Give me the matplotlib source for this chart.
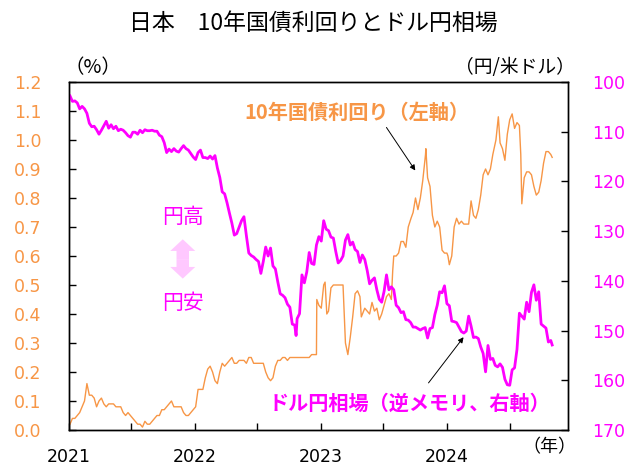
import numpy as np
import pandas as pd
import matplotlib
matplotlib.use("Agg")
import matplotlib.pyplot as plt
from matplotlib.patches import FancyArrowPatch

plt.rcParams['font.family'] = ['Noto Sans CJK JP', 'DejaVu Sans']

ORANGE = '#F79646'
MAGENTA = '#FF00FF'

# --- data ---
jgb_dates = [
    '2021-01-04', '2021-01-11', '2021-01-18', '2021-01-25', '2021-02-01', '2021-02-08', '2021-02-15', '2021-02-22',
    '2021-03-01', '2021-03-08', '2021-03-15', '2021-03-22', '2021-03-29', '2021-04-05', '2021-04-12', '2021-04-19',
    '2021-04-26', '2021-05-03', '2021-05-10', '2021-05-17', '2021-05-24', '2021-05-31', '2021-06-07', '2021-06-14',
    '2021-06-21', '2021-06-28', '2021-07-05', '2021-07-12', '2021-07-19', '2021-07-26', '2021-08-02', '2021-08-09',
    '2021-08-16', '2021-08-23', '2021-08-30', '2021-09-06', '2021-09-13', '2021-09-20', '2021-09-27', '2021-10-04',
    '2021-10-11', '2021-10-18', '2021-10-25', '2021-11-01', '2021-11-08', '2021-11-15', '2021-11-22', '2021-11-29',
    '2021-12-06', '2021-12-13', '2021-12-20', '2021-12-27',
    '2022-01-03', '2022-01-10', '2022-01-17', '2022-01-24', '2022-01-31', '2022-02-07', '2022-02-14', '2022-02-21',
    '2022-02-28', '2022-03-07', '2022-03-14', '2022-03-21', '2022-03-28', '2022-04-04', '2022-04-11', '2022-04-18',
    '2022-04-25', '2022-05-02', '2022-05-09', '2022-05-16', '2022-05-23', '2022-05-30', '2022-06-06', '2022-06-13',
    '2022-06-20', '2022-06-27', '2022-07-04', '2022-07-11', '2022-07-18', '2022-07-25', '2022-08-01', '2022-08-08',
    '2022-08-15', '2022-08-22', '2022-08-29', '2022-09-05', '2022-09-12', '2022-09-19', '2022-09-26', '2022-10-03',
    '2022-10-10', '2022-10-17', '2022-10-24', '2022-10-31', '2022-11-07', '2022-11-14', '2022-11-21', '2022-11-28',
    '2022-12-05', '2022-12-12', '2022-12-19', '2022-12-20', '2022-12-26',
    '2023-01-02', '2023-01-09', '2023-01-13', '2023-01-18', '2023-01-23', '2023-01-30', '2023-02-06', '2023-02-13',
    '2023-02-20', '2023-02-27', '2023-03-06', '2023-03-13', '2023-03-20', '2023-03-27', '2023-04-03', '2023-04-10',
    '2023-04-17', '2023-04-24', '2023-04-28', '2023-05-08', '2023-05-15', '2023-05-22', '2023-05-29', '2023-06-05',
    '2023-06-12', '2023-06-19', '2023-06-26', '2023-07-03', '2023-07-10', '2023-07-17', '2023-07-24', '2023-07-28',
    '2023-07-31', '2023-08-07', '2023-08-14', '2023-08-21', '2023-08-28', '2023-09-04', '2023-09-11', '2023-09-19',
    '2023-09-25', '2023-10-02', '2023-10-09', '2023-10-16', '2023-10-23', '2023-10-31', '2023-11-01', '2023-11-06',
    '2023-11-13', '2023-11-20', '2023-11-27', '2023-12-04', '2023-12-11', '2023-12-18', '2023-12-25',
    '2024-01-01', '2024-01-04', '2024-01-08', '2024-01-15', '2024-01-22', '2024-01-29', '2024-02-05', '2024-02-12',
    '2024-02-19', '2024-02-26', '2024-03-04', '2024-03-11', '2024-03-18', '2024-03-25', '2024-04-01', '2024-04-08',
    '2024-04-15', '2024-04-22', '2024-04-29', '2024-05-06', '2024-05-13', '2024-05-20', '2024-05-22', '2024-05-29',
    '2024-06-03', '2024-06-10', '2024-06-17', '2024-06-24', '2024-07-01', '2024-07-08', '2024-07-15', '2024-07-22',
    '2024-07-29', '2024-08-02', '2024-08-05', '2024-08-12', '2024-08-19', '2024-08-26', '2024-09-02', '2024-09-09',
    '2024-09-16', '2024-09-23', '2024-09-30', '2024-10-07', '2024-10-14', '2024-10-21', '2024-10-28', '2024-11-01',
]
jgb_10y = [
    0.02, 0.04, 0.04, 0.05, 0.06, 0.08, 0.10, 0.16,
    0.12, 0.12, 0.11, 0.08, 0.10, 0.11, 0.09, 0.08,
    0.09, 0.09, 0.09, 0.08, 0.08, 0.08, 0.06, 0.05,
    0.06, 0.05, 0.04, 0.03, 0.02, 0.02, 0.01, 0.03,
    0.02, 0.02, 0.03, 0.04, 0.05, 0.05, 0.07, 0.07,
    0.08, 0.09, 0.10, 0.08, 0.08, 0.08, 0.08, 0.06,
    0.05, 0.05, 0.06, 0.07,
    0.08, 0.14, 0.14, 0.14, 0.18, 0.21, 0.22, 0.20,
    0.17, 0.16, 0.20, 0.23, 0.22, 0.23, 0.24, 0.25,
    0.23, 0.23, 0.24, 0.24, 0.24, 0.23, 0.25, 0.25,
    0.23, 0.23, 0.23, 0.23, 0.23, 0.20, 0.18, 0.17,
    0.18, 0.22, 0.24, 0.24, 0.25, 0.25, 0.24, 0.25,
    0.25, 0.25, 0.25, 0.25, 0.25, 0.25, 0.25, 0.25,
    0.26, 0.26, 0.26, 0.45, 0.43,
    0.42, 0.50, 0.51, 0.40, 0.41, 0.49, 0.50, 0.50,
    0.50, 0.50, 0.50, 0.30, 0.26, 0.32, 0.39, 0.47,
    0.48, 0.46, 0.39, 0.42, 0.41, 0.40, 0.44, 0.41,
    0.42, 0.38, 0.40, 0.43, 0.46, 0.47, 0.45, 0.55,
    0.60, 0.60, 0.61, 0.65, 0.65, 0.63, 0.70, 0.73,
    0.75, 0.80, 0.76, 0.80, 0.86, 0.95, 0.97, 0.87,
    0.84, 0.74, 0.70, 0.72, 0.70, 0.62, 0.61,
    0.61, 0.60, 0.57, 0.60, 0.70, 0.73, 0.71, 0.72,
    0.71, 0.71, 0.71, 0.79, 0.74, 0.73, 0.76, 0.81,
    0.88, 0.90, 0.88, 0.90, 0.95, 0.99, 1.00, 1.08,
    0.99, 0.97, 0.93, 1.02, 1.07, 1.09, 1.04, 1.06,
    1.05, 0.95, 0.78, 0.87, 0.89, 0.89, 0.88, 0.84,
    0.81, 0.82, 0.86, 0.92, 0.96, 0.96, 0.95, 0.94,
]

fx_dates = [
    '2021-01-04', '2021-01-11', '2021-01-18', '2021-01-25', '2021-02-01', '2021-02-08', '2021-02-15', '2021-02-22',
    '2021-03-01', '2021-03-08', '2021-03-15', '2021-03-22', '2021-03-29', '2021-04-05', '2021-04-12', '2021-04-19',
    '2021-04-26', '2021-05-03', '2021-05-10', '2021-05-17', '2021-05-24', '2021-05-31', '2021-06-07', '2021-06-14',
    '2021-06-21', '2021-06-28', '2021-07-05', '2021-07-12', '2021-07-19', '2021-07-26', '2021-08-02', '2021-08-09',
    '2021-08-16', '2021-08-23', '2021-08-30', '2021-09-06', '2021-09-13', '2021-09-20', '2021-09-27', '2021-10-04',
    '2021-10-11', '2021-10-18', '2021-10-25', '2021-11-01', '2021-11-08', '2021-11-15', '2021-11-22', '2021-11-29',
    '2021-12-06', '2021-12-13', '2021-12-20', '2021-12-27',
    '2022-01-03', '2022-01-10', '2022-01-17', '2022-01-24', '2022-01-31', '2022-02-07', '2022-02-14', '2022-02-21',
    '2022-02-28', '2022-03-07', '2022-03-14', '2022-03-21', '2022-03-28', '2022-04-04', '2022-04-11', '2022-04-18',
    '2022-04-25', '2022-05-02', '2022-05-09', '2022-05-16', '2022-05-23', '2022-05-30', '2022-06-06', '2022-06-13',
    '2022-06-20', '2022-06-27', '2022-07-04', '2022-07-11', '2022-07-18', '2022-07-25', '2022-08-01', '2022-08-08',
    '2022-08-15', '2022-08-22', '2022-08-29', '2022-09-05', '2022-09-12', '2022-09-19', '2022-09-26', '2022-10-03',
    '2022-10-10', '2022-10-17', '2022-10-21', '2022-10-24', '2022-10-31', '2022-11-07', '2022-11-14', '2022-11-21',
    '2022-11-28', '2022-12-05', '2022-12-12', '2022-12-19', '2022-12-26',
    '2023-01-02', '2023-01-09', '2023-01-16', '2023-01-23', '2023-01-30', '2023-02-06', '2023-02-13', '2023-02-20',
    '2023-02-27', '2023-03-06', '2023-03-13', '2023-03-20', '2023-03-27', '2023-04-03', '2023-04-10', '2023-04-17',
    '2023-04-24', '2023-05-01', '2023-05-08', '2023-05-15', '2023-05-22', '2023-05-29', '2023-06-05', '2023-06-12',
    '2023-06-19', '2023-06-26', '2023-07-03', '2023-07-10', '2023-07-17', '2023-07-24', '2023-07-31', '2023-08-07',
    '2023-08-14', '2023-08-21', '2023-08-28', '2023-09-04', '2023-09-11', '2023-09-18', '2023-09-25', '2023-10-02',
    '2023-10-09', '2023-10-16', '2023-10-23', '2023-10-30', '2023-11-06', '2023-11-13', '2023-11-20', '2023-11-27',
    '2023-12-04', '2023-12-11', '2023-12-18', '2023-12-25',
    '2024-01-01', '2024-01-08', '2024-01-15', '2024-01-22', '2024-01-29', '2024-02-05', '2024-02-12', '2024-02-19',
    '2024-02-26', '2024-03-04', '2024-03-11', '2024-03-18', '2024-03-25', '2024-04-01', '2024-04-08', '2024-04-15',
    '2024-04-22', '2024-04-29', '2024-05-06', '2024-05-13', '2024-05-20', '2024-05-27', '2024-06-03', '2024-06-10',
    '2024-06-17', '2024-06-24', '2024-07-01', '2024-07-08', '2024-07-15', '2024-07-22', '2024-07-29', '2024-08-05',
    '2024-08-12', '2024-08-19', '2024-08-26', '2024-09-02', '2024-09-09', '2024-09-16', '2024-09-23', '2024-09-30',
    '2024-10-07', '2024-10-14', '2024-10-21', '2024-10-28', '2024-11-01',
]
usd_jpy = [
    102.8, 103.9, 103.8, 104.2, 105.4, 104.9, 105.4, 106.3,
    108.3, 109.0, 108.9, 109.6, 110.5, 109.7, 108.8, 107.9,
    109.3, 108.6, 109.4, 108.9, 109.8, 109.5, 109.7, 110.2,
    110.8, 111.1, 110.1, 110.1, 110.5, 109.7, 110.2, 109.6,
    109.8, 109.8, 109.7, 109.9, 109.9, 110.7, 111.0, 112.2,
    114.2, 113.5, 114.0, 113.4, 113.9, 114.1, 113.4, 112.8,
    113.4, 113.7, 114.4, 115.1,
    115.6, 114.2, 113.7, 115.2, 115.2, 115.4, 114.9, 115.5,
    114.8, 117.3, 119.2, 122.1, 122.5, 124.3, 126.4, 128.4,
    130.8, 130.5, 129.2, 127.9, 127.1, 130.9, 134.4, 134.9,
    135.2, 135.7, 136.1, 138.5, 136.1, 133.2, 135.0, 133.4,
    137.0, 137.6, 140.2, 142.6, 142.9, 143.4, 144.7, 145.3,
    148.7, 148.9, 151.0, 147.6, 146.6, 138.8, 140.4, 138.2,
    134.3, 136.5, 136.7, 132.8, 131.1,
    132.0, 127.9, 129.6, 129.9, 131.2, 131.4, 134.1, 136.4,
    135.9, 135.0, 131.8, 130.7, 132.8, 132.2, 133.7, 134.1,
    136.3, 134.8, 135.7, 137.9, 140.6, 139.9, 139.4, 141.8,
    143.7, 144.3, 142.1, 138.8, 141.8, 141.2, 141.8, 144.9,
    145.4, 146.4, 146.2, 147.8, 147.9, 148.4, 149.3, 149.3,
    149.6, 149.9, 149.6, 149.4, 151.5, 149.6, 149.4, 146.8,
    144.9, 142.2, 142.4, 141.0,
    144.6, 145.0, 148.1, 148.2, 148.4, 149.3, 150.2, 150.5,
    150.1, 147.1, 149.1, 151.4, 151.3, 151.6, 153.3, 154.6,
    158.3, 153.0, 155.8, 155.6, 157.0, 157.3, 156.7, 157.4,
    159.8, 160.9, 161.0, 157.9, 157.5, 153.8, 146.5, 147.1,
    147.7, 144.3, 146.2, 142.3, 140.8, 143.9, 142.2, 148.7,
    149.1, 149.5, 152.3, 152.0, 152.9,
]

xtick_dates = ['2021-01-01', '2021-07-01', '2022-01-01', '2022-07-01',
               '2023-01-01', '2023-07-01', '2024-01-01', '2024-07-01']
xtick_labels = ['2021', '', '2022', '', '2023', '', '2024', '']
left_ticks = [0.0, 0.1, 0.2, 0.3, 0.4, 0.5, 0.6, 0.7, 0.8, 0.9, 1.0, 1.1, 1.2]
right_ticks = [100, 110, 120, 130, 140, 150, 160, 170]

jgb_x = pd.to_datetime(jgb_dates)
fx_x = pd.to_datetime(fx_dates)

fig = plt.figure(figsize=(6.27, 4.68), dpi=100)
ax = fig.add_axes([0.110, 0.0812, 0.796, 0.7436])
ax2 = ax.twinx()

ax.plot(jgb_x, jgb_10y, color=ORANGE, linewidth=1.0)
ax2.plot(fx_x, usd_jpy, color=MAGENTA, linewidth=2.0)

ax.set_xlim(pd.Timestamp('2021-01-01'), pd.Timestamp('2024-12-17'))
ax.set_ylim(0, 1.2)
ax2.set_ylim(170, 100)

num_font = 'DejaVu Sans'
ax.set_xticks(pd.to_datetime(xtick_dates))
ax.set_xticklabels(xtick_labels, fontsize=12.5, family=num_font)
ax.set_yticks(left_ticks)
ax.set_yticklabels([f'{v:.1f}' for v in left_ticks], fontsize=12.5, color=ORANGE, family=num_font)
ax2.set_yticks(right_ticks)
ax2.set_yticklabels([str(v) for v in right_ticks], fontsize=12.5, color=MAGENTA, family=num_font)

ax.tick_params(axis='x', direction='in', length=5, pad=13, width=1)
ax.tick_params(axis='y', direction='in', length=5, pad=20, width=1)
ax2.tick_params(axis='y', direction='in', length=5, pad=17, width=1)
for sp in ax.spines.values():
    sp.set_linewidth(1.0)
for sp in ax2.spines.values():
    sp.set_linewidth(1.0)

fig.text(0.5, 0.950, '日本\u300010年国債利回りとドル円相場', ha='center', va='center', fontsize=16.5)

ax.text(0.048, 1.040, '（%）', transform=ax.transAxes, ha='center', va='center', fontsize=14)
ax.text(0.894, 1.043, '（円/米ドル）', transform=ax.transAxes, ha='center', va='center', fontsize=13.5)
ax.text(0.962, -0.049, '（年）', transform=ax.transAxes, ha='center', va='center', fontsize=13)

ax.text(0.577, 0.914, '10年国債利回り（左軸）', transform=ax.transAxes, ha='center', va='center',
        fontsize=14.5, fontweight='bold', color=ORANGE)
ax.text(0.683, 0.078, 'ドル円相場（逆メモリ、右軸）', transform=ax.transAxes, ha='center', va='center',
        fontsize=14.5, fontweight='bold', color=MAGENTA)

ax2.annotate('', xy=(0.697, 0.739), xytext=(0.633, 0.876), xycoords='axes fraction',
             arrowprops=dict(arrowstyle='-|>', color='black', lw=0.7, mutation_scale=8))
ax2.annotate('', xy=(0.794, 0.273), xytext=(0.717, 0.129), xycoords='axes fraction',
             arrowprops=dict(arrowstyle='-|>', color='black', lw=0.7, mutation_scale=8))

ax2.text(0.228, 0.612, '円高', transform=ax.transAxes, ha='center', va='center', fontsize=15, color=MAGENTA)
ax2.text(0.228, 0.365, '円安', transform=ax.transAxes, ha='center', va='center', fontsize=15, color=MAGENTA)
for y_end in (0.548, 0.435):
    arr = FancyArrowPatch((0.228, 0.491), (0.228, y_end), transform=ax.transAxes,
                          arrowstyle='simple,head_width=1.5,head_length=0.7,tail_width=0.75',
                          mutation_scale=12, color='#FFC8FF', lw=0, shrinkA=0, shrinkB=0)
    ax2.add_patch(arr)

fig.savefig('out.png', dpi=100)
